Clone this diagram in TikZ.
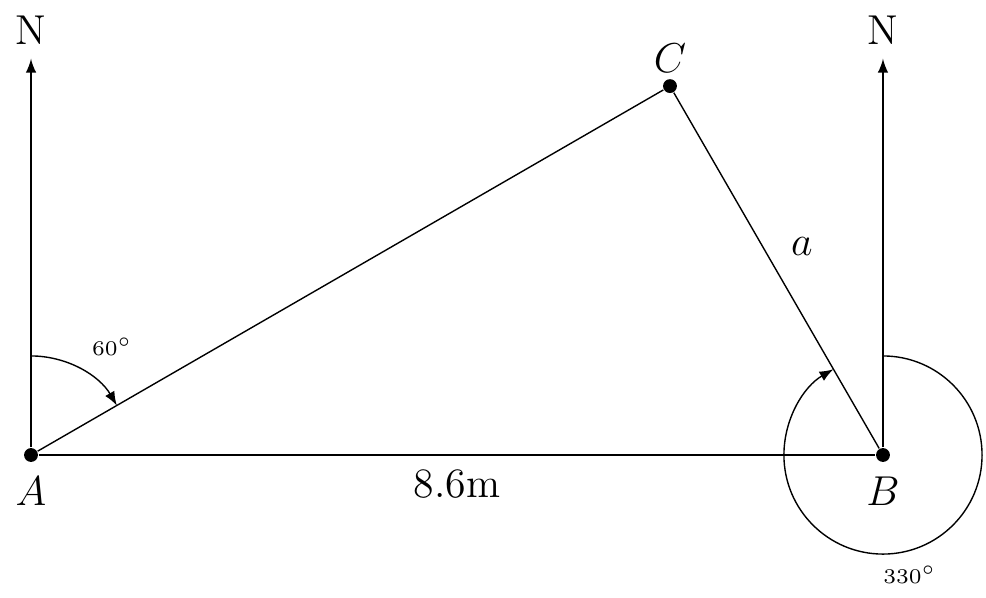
\documentclass[12pt,tikz,border=0pt]{standalone}
\usepackage{amsmath, amssymb}
\usepackage{tikz}
\usetikzlibrary{arrows}
\tikzset{dot/.style={circle,fill,inner sep=0pt,minimum size=0.14cm}}

\begin{document}
\begin{tikzpicture}[>=latex]
	\useasboundingbox (-0.313,-1.443) rectangle (9.64,4.593);
	\node[dot,label=below:$A$] (A) at (0,0) {};
	\node[dot,label=below:$B$] (B) at (8.6,0) {};
	\node[dot,label={[label distance=-2.5pt]above:$C$}] (C) at (6.45,3.724) {};
	\coordinate (nA) at (0,4);
	\coordinate (nB) at (8.6,4);
	\node (NA) at (0,4.29) {N};
	\node (NB) at (8.6,4.29) {N};
	%
	\path[->]
	(A) edge (nA)
	(B) edge (nB);
	\path
	(A) edge node[below]{8.6m} (B)
		edge (C)
	(B) edge node[above right]{$a$} (C);
	%
	\draw[->] ([shift={(0,1)}]A.center) arc[start angle=90,end angle=30,radius=1];
	\draw[->] ([shift={(0,1)}]B.center) arc[start angle=90,end angle=-240,radius=1];
	\node (angA) at (0.82,1.09) {\tiny{$60^\circ$}};
	\node (angB) at (8.87,-1.21) {\tiny{$330^\circ$}};
\end{tikzpicture}
\end{document}
